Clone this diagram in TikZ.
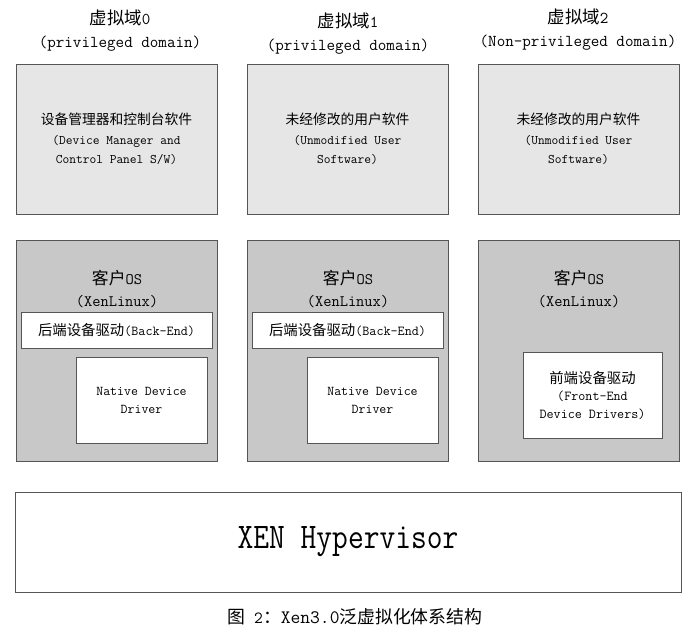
\documentclass[tikz,border=0pt]{standalone}
\usepackage{fontspec}
\usepackage{graphicx}
\newfontfamily\cjk[Scale=1.05]{Noto Sans CJK SC}
\newcommand{\zh}[1]{{\cjk #1}}
\newcommand{\fs}[2]{\ttfamily\fontsize{#1}{#2}\selectfont}
\definecolor{edgegray}{HTML}{555555}
\definecolor{lightfill}{HTML}{E6E6E6}
\definecolor{midfill}{HTML}{C8C8C8}
\begin{document}
\begin{tikzpicture}[x=1pt,y=-1pt,
  box/.style={draw=edgegray, line width=0.8pt, inner sep=0pt, align=center},
  topbox/.style={box, fill=lightfill, minimum width=201pt, minimum height=150pt},
  osbox/.style={box, fill=midfill, minimum width=201pt, minimum height=221pt},
  bebox/.style={box, fill=white, minimum width=191pt, minimum height=36pt},
  drvbox/.style={box, fill=white, minimum width=131pt, minimum height=86pt},
  febox/.style={box, fill=white, minimum width=139pt, minimum height=86pt},
  hdr/.style={inner sep=0pt, align=center, font=\fs{16.6}{23}},
  ostxt/.style={inner sep=0pt, align=center, font=\fs{16}{22}},
  boxtxt/.style={font=\fs{13.1}{19.5}},
  drvtxt/.style={font=\fs{13.5}{18}},
]
\useasboundingbox (0,0) rectangle (700,640);

% headers
\node[hdr] (h0) at (120,31) {\zh{虚拟域}0\\(privileged domain)};
\node[hdr] (h1) at (348,33.5) {\zh{虚拟域}1\\(privileged domain)};
\node[hdr] (h2) at (578,30) {\zh{虚拟域}2\\(Non-privileged domain)};

% top row: application boxes
\node[topbox, boxtxt] (d0) at (116.5,139) {\zh{设备管理器和控制台软件}\\(Device Manager and\\Control Panel S/W)};
\node[topbox, boxtxt] (d1) at (347.5,139) {\zh{未经修改的用户软件}\\(Unmodified User\\Software)};
\node[topbox, boxtxt] (d2) at (578.5,139) {\zh{未经修改的用户软件}\\(Unmodified User\\Software)};

% second row: guest OS boxes
\node[osbox] (os0) at (116.5,350.5) {};
\node[osbox] (os1) at (347.5,350.5) {};
\node[osbox] (os2) at (578.5,350.5) {};
\node[ostxt] (ot0) at (117,289) {\zh{客户}OS\\(XenLinux)};
\node[ostxt] (ot1) at (348,289) {\zh{客户}OS\\(XenLinux)};
\node[ostxt] (ot2) at (579,289) {\zh{客户}OS\\(XenLinux)};

% back-end driver strips
\node[bebox, font=\fs{13.7}{14}] (be0) at (116.5,330) {\zh{后端设备驱动}(Back-End)};
\node[bebox, font=\fs{13.7}{14}] (be1) at (347.5,330) {\zh{后端设备驱动}(Back-End)};

% native drivers
\node[drvbox, drvtxt] (nd0) at (141.5,400) {Native Device\\Driver};
\node[drvbox, drvtxt] (nd1) at (372.5,400) {Native Device\\Driver};

% front-end driver
\node[febox, font=\fs{13.7}{17.5}] (fe2) at (592.5,395) {\zh{前端设备驱动}\\(Front-End\\Device Drivers)};

% hypervisor
\node[box, fill=white, minimum width=666pt, minimum height=100pt] (hv) at (348,542)
  {\scalebox{0.85}[1]{\fs{36}{40}XEN Hypervisor}};

% caption
\node[inner sep=0pt, font=\fs{17}{18}] (cap) at (355,617) {\zh{图} 2\zh{：}{\fontsize{19}{18}\selectfont Xen3.0}\zh{泛虚拟化体系结构}};
\end{tikzpicture}
\end{document}
